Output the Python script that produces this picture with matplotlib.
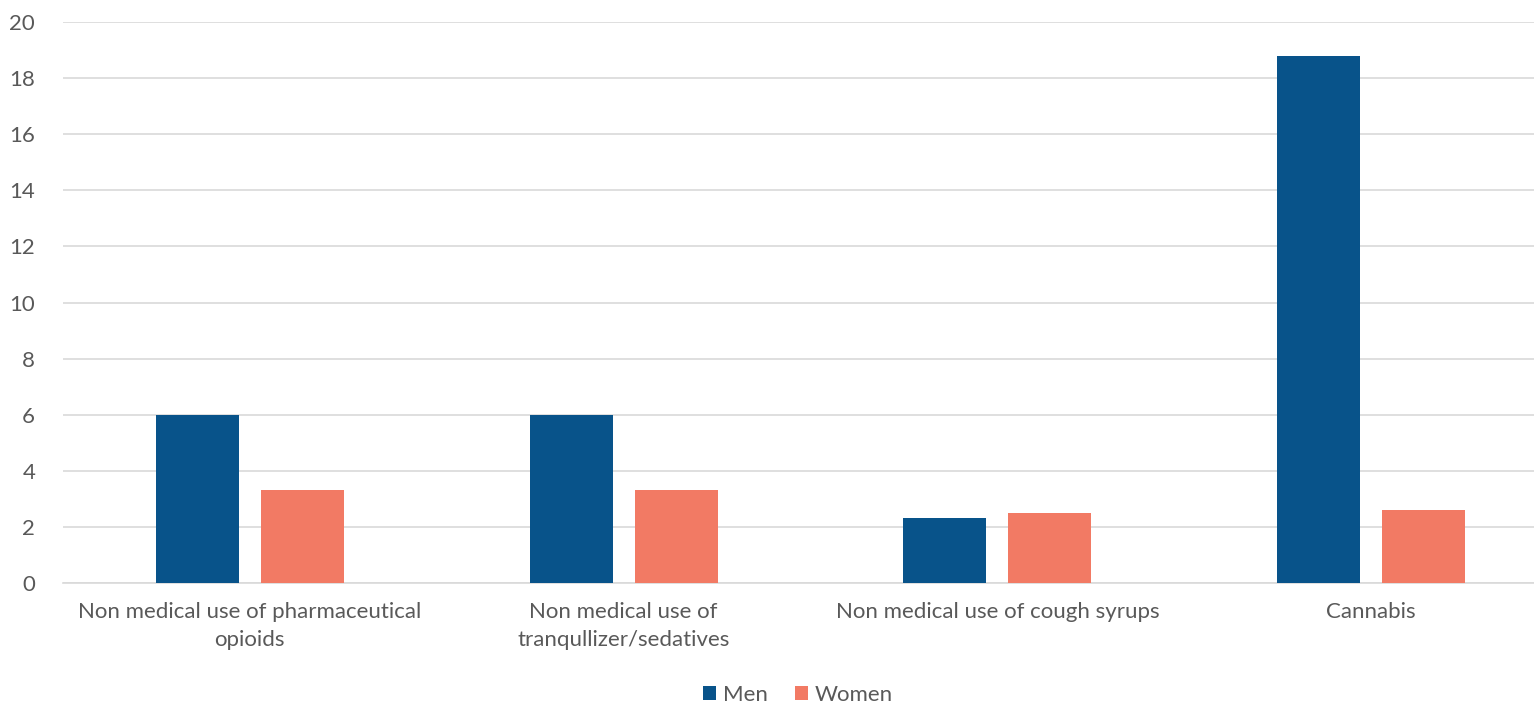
import matplotlib.pyplot as plt
import numpy as np

categories = ['Non medical use of pharmaceutical\nopioids',
              'Non medical use of\ntranqullizer/sedatives',
              'Non medical use of cough syrups',
              'Cannabis']
men = [6.0, 6.0, 2.3, 18.8]
women = [3.3, 3.3, 2.5, 2.6]

plt.rcParams['font.family'] = ['Lato', 'DejaVu Sans']
TEXT = '#595959'

fig = plt.figure(figsize=(15.34, 7.07), dpi=100)
# plot area runs a little past the right edge of the picture, as in the source
ax = fig.add_axes([63 / 1534, 1 - 583 / 707, (1558 - 63) / 1534, (583 - 22) / 707])

x = np.arange(len(categories))
w = 0.222
gap = 0.059
ax.bar(x - (w + gap) / 2, men, w, color='#08538A', label='Men', zorder=3)
ax.bar(x + (w + gap) / 2, women, w, color='#F27A64', label='Women', zorder=3)

ax.set_xlim(-0.5, len(categories) - 0.5)
ax.set_ylim(0, 20)
ax.set_yticks(range(0, 21, 2))
ax.yaxis.grid(True, color='#D9D9D9', linewidth=1.2, zorder=0)
for s in ['top', 'right', 'left']:
    ax.spines[s].set_visible(False)
ax.spines['bottom'].set_color('#D9D9D9')
ax.spines['bottom'].set_linewidth(1.2)
ax.tick_params(axis='both', length=0, labelsize=16, colors=TEXT)
ax.tick_params(axis='y', pad=20)
ax.tick_params(axis='x', pad=14)
ax.set_xticks(x)
ax.set_xticklabels(categories, linespacing=1.5)

ax.legend(loc='center', bbox_to_anchor=(0.4916, -0.2), ncol=2, frameon=False,
          fontsize=16, labelcolor=TEXT, handlelength=0.6, handleheight=0.6,
          handletextpad=0.3, columnspacing=1.2)

fig.savefig('out.png', dpi=100)
